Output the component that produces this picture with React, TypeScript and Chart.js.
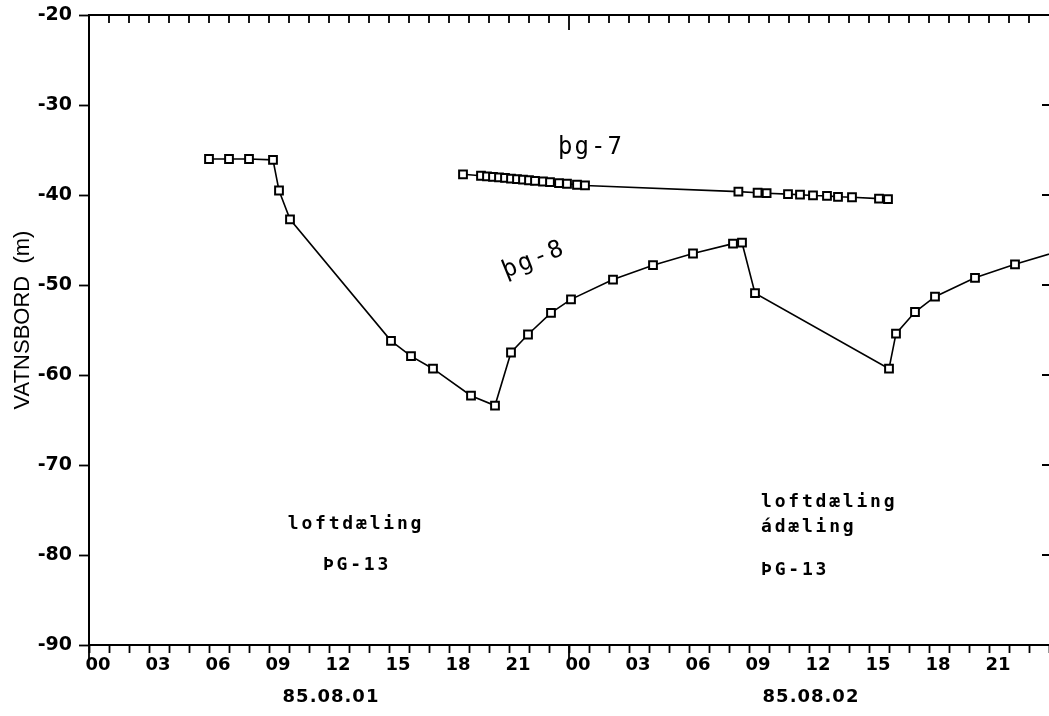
import React, { useEffect, useRef } from 'react';
import { Chart, registerables } from 'chart.js';

Chart.register(...registerables);

// ---- data (hours since 85.08.01 00:00, water level in m) ----
const pg8Hours = [6.0, 7.0, 8.0, 9.2, 9.5, 10.05, 15.1, 16.1, 17.2, 19.1, 20.3, 21.1, 21.95, 23.1, 24.1, 26.2, 28.2, 30.2, 32.2, 32.65, 33.3, 40.0, 40.35, 41.3, 42.3, 44.3, 46.3, 49.0];
const pg8Level = [-36.0, -36.0, -36.0, -36.1, -39.5, -42.7, -56.2, -57.9, -59.3, -62.3, -63.4, -57.5, -55.5, -53.1, -51.6, -49.4, -47.8, -46.5, -45.4, -45.3, -50.9, -59.3, -55.4, -53.0, -51.3, -49.2, -47.7, -45.9];

const pg7Hours = [18.7, 19.6, 19.9, 20.2, 20.5, 20.8, 21.1, 21.4, 21.7, 22.0, 22.3, 22.7, 23.05, 23.5, 23.9, 24.4, 24.8, 32.47, 33.43, 33.88, 34.95, 35.55, 36.2, 36.9, 37.45, 38.15, 39.5, 39.95];
const pg7Level = [-37.7, -37.86, -37.92, -37.98, -38.04, -38.1, -38.17, -38.23, -38.3, -38.36, -38.42, -38.5, -38.58, -38.67, -38.75, -38.86, -38.94, -39.63, -39.75, -39.8, -39.9, -39.97, -40.05, -40.1, -40.2, -40.25, -40.4, -40.45];

const hourLabels = ['00', '03', '06', '09', '12', '15', '18', '21', '00', '03', '06', '09', '12', '15', '18', '21'];
const dayLabels = ['85.08.01', '85.08.02'];
const dayLabelHours = [12, 36];
const yTickValues = [-90, -80, -70, -60, -50, -40, -30, -20];
const yTitle = 'VATNSBORD  (m)';

// text notes placed in data coordinates
const noteTexts = ['loftdæling', 'ÞG-13', 'loftdæling', 'ádæling', 'ÞG-13'];
const noteHours = [13.35, 13.4, 33.6, 33.6, 33.6];
const noteLevels = [-76.6, -81.2, -74.1, -76.9, -81.7];
const noteAlign: CanvasTextAlign[] = ['center', 'center', 'left', 'left', 'left'];

const seriesNames = ['þg-7', 'þg-8'];
const seriesNameHours = [25.1, 22.25];
const seriesNameLevels = [-34.8, -47.2];
const seriesNameAngles = [0, -22];

const toPoints = (xs: number[], ys: number[]) => xs.map((x, i) => ({ x, y: ys[i] }));

const overlayPlugin = {
  id: 'overlay',
  afterDraw(chart: any) {
    const { ctx, chartArea: a } = chart;
    const x = chart.scales.x;
    const y = chart.scales.y;
    ctx.save();
    ctx.strokeStyle = '#000';
    ctx.fillStyle = '#000';
    // top frame line
    ctx.lineWidth = 2;
    ctx.beginPath();
    ctx.moveTo(a.left, a.top);
    ctx.lineTo(a.right + 2, a.top);
    ctx.stroke();
    // top inward hourly ticks, right inward ticks, longer day ticks at bottom
    ctx.lineWidth = 1.8;
    ctx.beginPath();
    for (let h = 1; h < 48; h++) {
      const px = x.getPixelForValue(h);
      ctx.moveTo(px, a.top);
      ctx.lineTo(px, a.top + (h === 24 ? 15 : 8));
    }
    for (const v of yTickValues) {
      const py = y.getPixelForValue(v);
      ctx.moveTo(a.right - 7, py);
      ctx.lineTo(a.right, py);
    }
    for (const h of [0, 24]) {
      const px = x.getPixelForValue(h);
      ctx.moveTo(px, a.bottom);
      ctx.lineTo(px, a.bottom + 14);
    }
    ctx.stroke();

    // day labels
    ctx.font = 'bold 18px "DejaVu Sans"';
    (ctx as any).letterSpacing = '1px';
    ctx.textAlign = 'center';
    ctx.textBaseline = 'middle';
    dayLabels.forEach((t, i) => {
      ctx.fillText(t, x.getPixelForValue(dayLabelHours[i]) + 2, 697);
    });

    // y title
    (ctx as any).letterSpacing = '0px';
    ctx.save();
    ctx.translate(23, 320);
    ctx.rotate(-Math.PI / 2);
    ctx.font = '22px "Liberation Sans"';
    ctx.textAlign = 'center';
    ctx.textBaseline = 'middle';
    ctx.fillText(yTitle, 0, 0);
    ctx.restore();

    // notes
    ctx.font = 'bold 18px "DejaVu Sans Mono"';
    (ctx as any).letterSpacing = '2.8px';
    ctx.textBaseline = 'middle';
    noteTexts.forEach((t, i) => {
      ctx.textAlign = noteAlign[i];
      ctx.fillText(t, x.getPixelForValue(noteHours[i]), y.getPixelForValue(noteLevels[i]));
    });

    // series names
    ctx.font = '24px "DejaVu Sans Mono"';
    (ctx as any).letterSpacing = '2px';
    ctx.textAlign = 'center';
    seriesNames.forEach((t, i) => {
      ctx.save();
      ctx.translate(x.getPixelForValue(seriesNameHours[i]), y.getPixelForValue(seriesNameLevels[i]));
      ctx.rotate((seriesNameAngles[i] * Math.PI) / 180);
      ctx.fillText(t, 0, 0);
      ctx.restore();
    });
    ctx.restore();
  },
};

export default function App() {
  const canvasRef = useRef<HTMLCanvasElement | null>(null);

  useEffect(() => {
    document.body.style.margin = '0';
    const lineStyle = {
      showLine: true,
      borderColor: '#000',
      borderWidth: 1.6,
      pointStyle: 'rect' as const,
      pointRadius: 5.5,
      pointBorderWidth: 2,
      pointBackgroundColor: '#fff',
      pointBorderColor: '#000',
      tension: 0,
    };
    const chart = new Chart(canvasRef.current as HTMLCanvasElement, {
      type: 'scatter',
      data: {
        datasets: [
          { label: seriesNames[0], data: toPoints(pg7Hours, pg7Level), ...lineStyle },
          { label: seriesNames[1], data: toPoints(pg8Hours, pg8Level), ...lineStyle },
        ],
      },
      options: {
        animation: false,
        responsive: true,
        maintainAspectRatio: false,
        layout: { autoPadding: false, padding: { top: 15, right: 0, left: 0, bottom: 0 } },
        plugins: { legend: { display: false }, tooltip: { enabled: false } },
        scales: {
          x: {
            type: 'linear',
            min: 0,
            max: 48,
            afterFit: (s: any) => {
              s.height = 71;
              s.paddingLeft = 0;
              s.paddingRight = 0;
            },
            border: { display: true, color: '#000', width: 2 },
            grid: { drawOnChartArea: false, drawTicks: true, tickLength: 8, tickColor: '#000', tickWidth: 1.8 },
            ticks: {
              stepSize: 1,
              autoSkip: false,
              maxRotation: 0,
              minRotation: 0,
              padding: 2,
              labelOffset: 9,
              color: '#000',
              font: { family: '"DejaVu Sans"', size: 18, weight: 'bold' },
              callback: (v: any) => {
                const n = Number(v);
                return n % 3 === 0 && n < 48 ? hourLabels[n / 3] : '';
              },
            },
          },
          y: {
            type: 'linear',
            min: -90,
            max: -20,
            afterFit: (s: any) => {
              s.width = 89;
              s.paddingTop = 0;
              s.paddingBottom = 0;
            },
            border: { display: true, color: '#000', width: 2 },
            grid: { drawOnChartArea: false, drawTicks: true, tickLength: 10, tickColor: '#000', tickWidth: 1.8 },
            ticks: {
              stepSize: 10,
              padding: 7,
              color: '#000',
              font: { family: '"DejaVu Sans"', size: 19, weight: 'bold' },
              callback: (v: any) => String(v),
            },
          },
        },
      },
      plugins: [overlayPlugin],
    } as any);
    return () => chart.destroy();
  }, []);

  return (
    <div style={{ position: 'fixed', left: 0, top: 0, width: 1049, height: 716, background: '#fff' }}>
      <canvas ref={canvasRef} />
    </div>
  );
}
